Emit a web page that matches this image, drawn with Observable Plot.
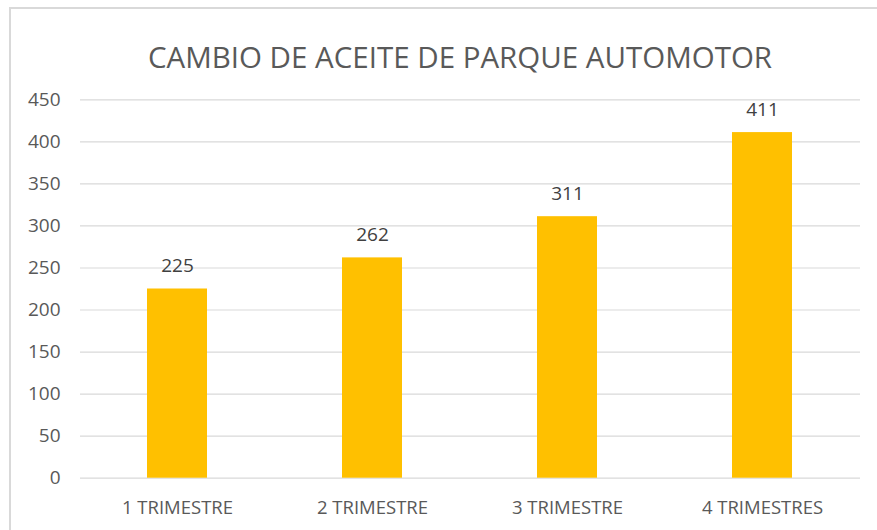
<!DOCTYPE html>
<html>
<head>
<meta charset="utf-8">
<script src="https://cdn.jsdelivr.net/npm/d3@7"></script>
<script src="https://cdn.jsdelivr.net/npm/@observablehq/plot@0.6"></script>
<style>
  html, body { margin: 0; padding: 0; background: #fff; width: 877px; height: 530px; overflow: hidden; }
  #frame { position: absolute; left: 9px; top: 7px; width: 940px; height: 560px; border: 2px solid #d9d9d9; box-sizing: border-box; }
  #title { position: absolute; left: 0; top: 38px; width: 920px; text-align: center; font-family: "Open Sans", sans-serif; font-size: 29.5px; color: #595959; line-height: 38px; }
  #chart { position: absolute; left: 0; top: 80px; }
</style>
</head>
<body>
<div id="frame"></div>
<div id="title">CAMBIO DE ACEITE DE PARQUE AUTOMOTOR</div>
<div id="chart"></div>
<script>
const categories = ["1 TRIMESTRE", "2 TRIMESTRE", "3 TRIMESTRE", "4 TRIMESTRES"];
const values = [225, 262, 311, 411];
const yTicks = [0, 50, 100, 150, 200, 250, 300, 350, 400, 450];

const data = categories.map((c, i) => ({category: c, value: values[i]}));

const chart = Plot.plot({
  width: 877,
  height: 440,
  marginTop: 19.3,
  marginBottom: 42.3,
  marginLeft: 80,
  marginRight: 17,
  style: {fontFamily: "Open Sans, sans-serif", color: "#595959", background: "transparent"},
  x: {domain: categories, paddingInner: 0.69, paddingOuter: 0.345, label: null},
  y: {domain: [0, 450], ticks: yTicks, label: null},
  marks: [
    Plot.gridY(yTicks, {stroke: "#d9d9d9", strokeOpacity: 1, strokeWidth: 1.2}),
    Plot.barY(data, {x: "category", y: "value", fill: "#FFC000"}),
    Plot.text(data, {x: "category", y: "value", text: d => String(d.value), dy: -23, fontSize: 19, fill: "#404040"}),
    Plot.axisY(yTicks, {tickSize: 0, tickPadding: 0, dx: -20, fontSize: 19, fill: "#595959", label: null}),
    Plot.axisX({tickSize: 0, tickPadding: 23, fontSize: 18.5, fill: "#595959", label: null})
  ]
});
document.getElementById("chart").appendChild(chart);
</script>
</body>
</html>
